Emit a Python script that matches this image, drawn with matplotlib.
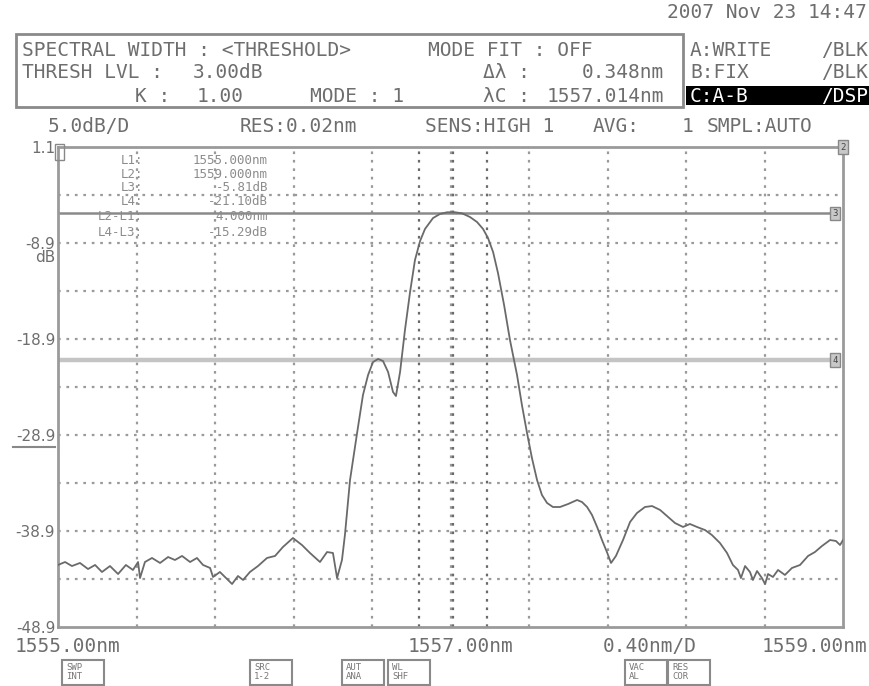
import matplotlib
matplotlib.use("Agg")
import numpy as np
import matplotlib.pyplot as plt
from matplotlib.patches import Rectangle
from matplotlib.lines import Line2D

# trace (nm, dB)
wavelength = [
    1555.000, 1555.036, 1555.071, 1555.112, 1555.153, 1555.189, 1555.224, 1555.265,
    1555.306, 1555.346, 1555.382, 1555.408, 1555.418, 1555.443, 1555.479, 1555.520,
    1555.561, 1555.596, 1555.632, 1555.673, 1555.708, 1555.739, 1555.775, 1555.790,
    1555.825, 1555.866, 1555.887, 1555.917, 1555.943, 1555.978, 1556.019, 1556.065,
    1556.106, 1556.146, 1556.197, 1556.243, 1556.284, 1556.335, 1556.371, 1556.401,
    1556.422, 1556.447, 1556.462, 1556.488, 1556.524, 1556.554, 1556.580, 1556.605,
    1556.631, 1556.656, 1556.682, 1556.707, 1556.722, 1556.743, 1556.768, 1556.794,
    1556.819, 1556.845, 1556.870, 1556.911, 1556.946, 1556.982, 1557.023, 1557.059,
    1557.099, 1557.135, 1557.166, 1557.191, 1557.217, 1557.242, 1557.273, 1557.303,
    1557.339, 1557.364, 1557.390, 1557.415, 1557.441, 1557.466, 1557.492, 1557.522,
    1557.558, 1557.599, 1557.645, 1557.670, 1557.696, 1557.721, 1557.747, 1557.772,
    1557.797, 1557.818, 1557.843, 1557.879, 1557.915, 1557.950, 1557.991, 1558.027,
    1558.068, 1558.103, 1558.144, 1558.185, 1558.220, 1558.256, 1558.297, 1558.332,
    1558.373, 1558.409, 1558.439, 1558.465, 1558.480, 1558.501, 1558.526, 1558.541,
    1558.562, 1558.587, 1558.603, 1558.618, 1558.643, 1558.669, 1558.704, 1558.740,
    1558.781, 1558.822, 1558.857, 1558.893, 1558.934, 1558.964, 1558.985, 1559.000]
power_db = [
    -42.44, -42.13, -42.55, -42.23, -42.86, -42.44, -43.17, -42.55,
    -43.38, -42.44, -42.96, -42.13, -43.80, -42.13, -41.71, -42.23,
    -41.61, -41.92, -41.50, -42.13, -41.71, -42.44, -42.75, -43.69,
    -43.17, -44.00, -44.42, -43.59, -44.00, -43.17, -42.55, -41.71,
    -41.50, -40.57, -39.63, -40.36, -41.19, -42.13, -41.09, -41.19,
    -43.80, -41.92, -39.32, -33.59, -28.69, -24.73, -22.65, -21.30,
    -20.98, -21.19, -22.34, -24.42, -24.84, -22.34, -17.96, -14.00,
    -10.67, -8.69, -7.44, -6.30, -5.88, -5.70, -5.70, -5.81,
    -6.19, -6.71, -7.44, -8.38, -9.84, -12.03, -15.36, -19.00,
    -22.65, -25.78, -28.69, -31.30, -33.59, -35.15, -35.98, -36.40,
    -36.40, -36.09, -35.67, -35.88, -36.40, -37.23, -38.48, -39.84,
    -41.09, -42.23, -41.50, -39.84, -37.96, -37.03, -36.40, -36.30,
    -36.71, -37.34, -38.07, -38.48, -38.17, -38.48, -38.80, -39.32,
    -40.15, -41.19, -42.44, -42.96, -43.80, -42.55, -43.17, -44.00,
    -43.07, -43.80, -44.42, -43.38, -43.69, -42.96, -43.48, -42.75,
    -42.44, -41.50, -41.09, -40.46, -39.84, -39.94, -40.36, -39.84]

x_start, x_stop = 1555.00, 1559.00
ref_level = 1.1
db_per_div = 5.0
y_tick_values = [1.1, -8.9, -18.9, -28.9, -38.9, -48.9]
y_tick_labels = ["1.1", "-8.9", "-18.9", "-28.9", "-38.9", "-48.9"]

center_wl = 1557.014
spec_width = 0.348
line_l3 = -5.81
line_l4 = -21.10
marker_rows = [("L1:", "1555.000nm"), ("L2:", "1559.000nm"), ("L3:", "-5.81dB"),
               ("L4:", "-21.10dB"), ("L2-L1:", "4.000nm"), ("L4-L3:", "-15.29dB")]

W, H = 870, 686
TXT = "#6e6e6e"
MONO = "DejaVu Sans Mono"


def fx(x):
    return x / W


def fy(y):
    return 1 - y / H


def ftext(x, y, s, ha="left", size=14, color=TXT, **kw):
    fig.text(fx(x), fy(y), s, ha=ha, va="center", fontsize=size,
             color=color, family=MONO, **kw)


fig = plt.figure(figsize=(W / 100, H / 100), dpi=100)
fig.patch.set_facecolor("white")

ax = fig.add_axes([fx(58), fy(627), 785 / W, 480 / H])
ax.set_xlim(x_start, x_stop)
ax.set_ylim(ref_level - 10 * db_per_div, ref_level)

# grid, 10 x 10 divisions
dots = (0, (1.2, 2.6))
for i in range(1, 10):
    ax.axvline(x_start + i * (x_stop - x_start) / 10, color="#9a9a9a", lw=1.6, ls=dots, zorder=1)
    ax.axhline(ref_level - i * db_per_div, color="#9a9a9a", lw=1.6, ls=dots, zorder=1)

# spectral width / centre lines
for w in [center_wl - spec_width / 2, center_wl, center_wl + spec_width / 2]:
    ax.axvline(w, color="#6a6a6a", lw=1.6, ls=dots, zorder=2)

ax.axhline(line_l3, xmax=0.99, color="#8a8a8a", lw=1.8, zorder=2)
ax.axhline(line_l4, xmax=0.99, color="#c4c4c4", lw=3.2, zorder=2)

ax.plot(wavelength, power_db, color="#6a6a6a", lw=1.3, zorder=3)

for sp in ax.spines.values():
    sp.set_color("#9a9a9a")
    sp.set_linewidth(2)

ax.set_xticks([])
ax.set_yticks(y_tick_values)
ax.set_yticklabels(y_tick_labels)
ax.tick_params(axis="y", length=0, pad=2, labelsize=11, labelcolor=TXT)

# marker boxes on the right edge
yt = ax.get_yaxis_transform()
for yv, lab, xv in [(ref_level, "2", 1.0), (line_l3, "3", 0.99), (line_l4, "4", 0.99)]:
    ax.text(xv, yv, lab, transform=yt, ha="center", va="center", fontsize=6.5,
            color="#444", family=MONO, clip_on=False, zorder=5,
            bbox=dict(boxstyle="square,pad=0.25", fc="#c8c8c8", ec="#888", lw=1))
ax.text(0.0, ref_level, " ", transform=yt, ha="left", va="top", fontsize=7,
        clip_on=False, bbox=dict(boxstyle="square,pad=0.3", fc="none", ec="#888", lw=1))

# marker readout block
row_y = [161, 174, 188, 202, 217, 232]
for (lab, val), yy in zip(marker_rows, row_y):
    ftext(143, yy, lab, ha="right", size=9, color="#8c8c8c")
    ftext(268, yy, val, ha="right", size=9, color="#8c8c8c")

fig.text(fx(55), fy(258), "dB", ha="right", va="center", fontsize=11, color=TXT)
fig.add_artist(Line2D([fx(13), fx(55)], [fy(447), fy(447)], color="#888", lw=1.5))

# header
ftext(867, 12, "2007 Nov 23 14:47", ha="right")
fig.add_artist(Rectangle((fx(16), fy(107)), 667 / W, 73 / H, fill=False,
                         ec="#8a8a8a", lw=2, transform=fig.transFigure))
ftext(22, 50, "SPECTRAL WIDTH : <THRESHOLD>")
ftext(428, 50, "MODE FIT : OFF")
ftext(22, 72, "THRESH LVL :")
ftext(193, 72, "3.00dB")
ftext(483, 72, "Δλ :")
ftext(664, 72, "0.348nm", ha="right")
ftext(135, 97, "K :")
ftext(197, 97, "1.00")
ftext(310, 97, "MODE : 1")
ftext(483, 97, "λC :")
ftext(664, 97, "1557.014nm", ha="right")

ftext(690, 50, "A:WRITE")
ftext(868, 50, "/BLK", ha="right")
ftext(690, 72, "B:FIX")
ftext(868, 72, "/BLK", ha="right")
fig.add_artist(Rectangle((fx(686), fy(105)), 184 / W, 19 / H, fc="black", ec="none",
                         transform=fig.transFigure))
ftext(690, 96, "C:A-B", color="white")
ftext(868, 96, "/DSP", ha="right", color="white")

ftext(48, 127, "5.0dB/D")
ftext(240, 127, "RES:0.02nm")
ftext(425, 127, "SENS:HIGH 1")
ftext(593, 127, "AVG:")
ftext(682, 127, "1")
ftext(707, 127, "SMPL:AUTO")

# bottom labels
ftext(15, 647, "1555.00nm")
ftext(408, 647, "1557.00nm")
ftext(603, 647, "0.40nm/D")
ftext(867, 647, "1559.00nm", ha="right")

soft_keys = [(62, "SWP\nINT"), (250, "SRC\n1-2"), (342, "AUT\nANA"), (388, "WL\nSHF"),
             (625, "VAC\nAL"), (668, "RES\nCOR")]
for kx, lab in soft_keys:
    fig.add_artist(Rectangle((fx(kx), fy(685)), 42 / W, 25 / H, fill=False, ec="#8a8a8a",
                             lw=1.5, transform=fig.transFigure))
    fig.text(fx(kx + 4), fy(672), lab, ha="left", va="center", fontsize=6.5,
             color="#777", family=MONO, linespacing=0.95)

fig.savefig("out.png", dpi=100)
